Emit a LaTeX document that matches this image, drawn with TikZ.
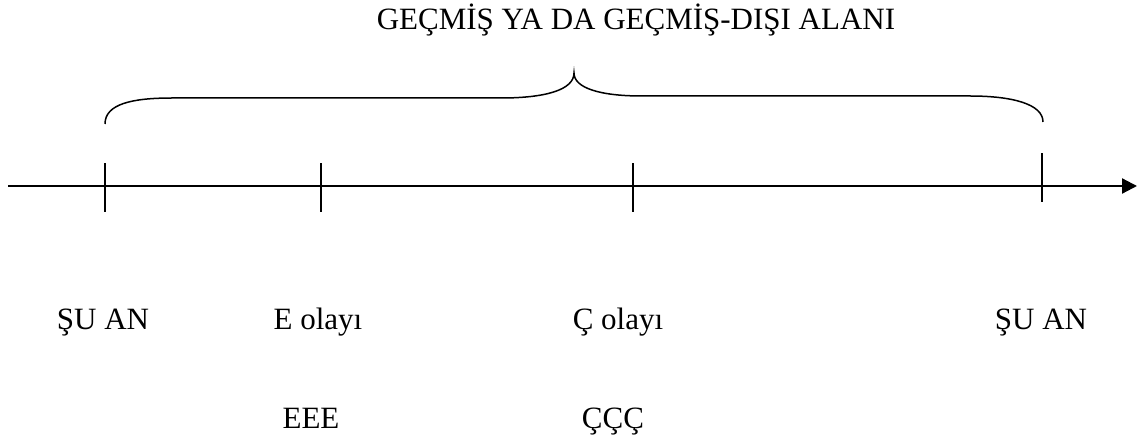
\documentclass[tikz,border=0pt]{standalone}
\usepackage{fontspec}
\setmainfont{Liberation Serif}
\usetikzlibrary{arrows.meta}
\begin{document}
\begin{tikzpicture}[x=1pt,y=-1pt,
  lbl/.style={inner sep=0pt,anchor=base,font=\fontsize{31}{37}\selectfont},
  axisline/.style={line width=2.2pt,-{Triangle[length=15pt,width=15pt]}},
  tickline/.style={line width=1.4pt},
  braceline/.style={line width=1.5pt}]
\useasboundingbox (0,0) rectangle (1145,443);
% axis
\coordinate (a0) at (8,186);
\coordinate (a1) at (1137,186);
\draw[axisline] (a0) -- (a1);
% ticks
\coordinate (t1) at (105,186);
\coordinate (t2) at (321,186);
\coordinate (t3) at (633,186);
\coordinate (t4) at (1042,186);
\draw[tickline] ([yshift=-26pt]t1) -- ([yshift=23pt]t1);
\draw[tickline] ([yshift=-26pt]t2) -- ([yshift=23pt]t2);
\draw[tickline] ([yshift=-26pt]t3) -- ([yshift=23pt]t3);
\draw[tickline] ([yshift=-16pt]t4) -- ([yshift=33pt]t4);
% brace
\coordinate (bl) at (105,124);
\coordinate (bt) at (574,73);
\coordinate (br) at (1043,122);
\draw[braceline] (bl) .. controls (105,104) and (132,98) .. (172,98)
  -- (501,98) .. controls (545,98) and (574,90) .. (bt)
  .. controls (574,88) and (600,96) .. (642,96)
  -- (970,96) .. controls (1012,96) and (1043,104) .. (br);
% texts
\node[lbl] (title) at (636,30) {GEÇMİŞ YA DA GEÇMİŞ-DIŞI ALANI};
\node[lbl] (l1) at (103,330) {ŞU AN};
\node[lbl] (l2) at (318,330) {E olayı};
\node[lbl] (l3) at (618,330) {Ç olayı};
\node[lbl] (l4) at (1041,330) {ŞU AN};
\node[lbl] (m2) at (311,428) {EEE};
\node[lbl] (m3) at (613,428) {ÇÇÇ};
\end{tikzpicture}
\end{document}
